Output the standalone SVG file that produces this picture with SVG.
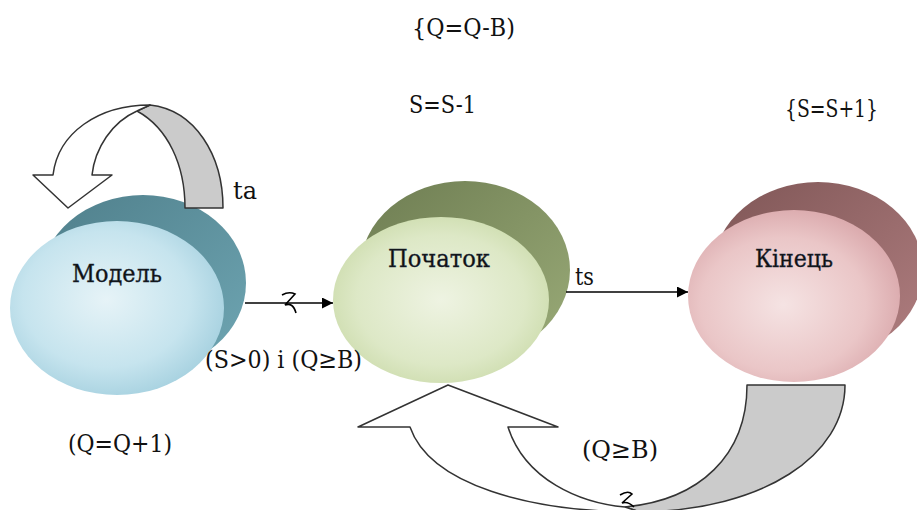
<svg xmlns="http://www.w3.org/2000/svg" width="917" height="510" viewBox="0 0 917 510">
<style>
.t{font-size:25px;fill:#111}
.n{font-size:25px;fill:#111;stroke:#1b2a40;stroke-width:0.4}
.ln{stroke:#000;stroke-width:1.6;fill:none}
.blk{stroke:#333;stroke-width:1.5;stroke-linejoin:round}
</style>
<defs>
<marker id="ah" viewBox="0 0 10 10" refX="10" refY="5" markerWidth="11" markerHeight="11" markerUnits="userSpaceOnUse" orient="auto">
<path d="M0,0 L10,5 L0,10 Z" fill="#000"/>
</marker>
<radialGradient id="gB" cx="0.45" cy="0.45" r="0.65">
<stop offset="0" stop-color="#e6f3f7"/><stop offset="0.6" stop-color="#c6e4ee"/><stop offset="1" stop-color="#9ccbdb"/>
</radialGradient>
<linearGradient id="bB" x1="0" y1="0" x2="1" y2="1">
<stop offset="0" stop-color="#4f7f8b"/><stop offset="1" stop-color="#6fa6b3"/>
</linearGradient>
<radialGradient id="gG" cx="0.5" cy="0.5" r="0.65">
<stop offset="0" stop-color="#eef3e2"/><stop offset="0.6" stop-color="#dde8c6"/><stop offset="1" stop-color="#c3d59e"/>
</radialGradient>
<linearGradient id="bG" x1="0" y1="0" x2="1" y2="1">
<stop offset="0" stop-color="#6e7d52"/><stop offset="1" stop-color="#9aab78"/>
</linearGradient>
<radialGradient id="gR" cx="0.45" cy="0.55" r="0.65">
<stop offset="0" stop-color="#f5e3e3"/><stop offset="0.6" stop-color="#eac6c7"/><stop offset="1" stop-color="#d49ea2"/>
</radialGradient>
<linearGradient id="bR" x1="0" y1="0" x2="1" y2="1">
<stop offset="0" stop-color="#7f5656"/><stop offset="1" stop-color="#b07e80"/>
</linearGradient>
</defs>
<rect width="917" height="510" fill="#fff"/>
<g font-family="DejaVu Serif, serif">
<g id="node-model">
<ellipse cx="143" cy="283" rx="103" ry="88" fill="url(#bB)"/>
<ellipse cx="117" cy="308" rx="107" ry="87" fill="url(#gB)"/>
<text class="n" x="72" y="282" textLength="90" lengthAdjust="spacingAndGlyphs">Модель</text>
</g>
<g id="node-start">
<ellipse cx="465" cy="270" rx="105" ry="89" fill="url(#bG)"/>
<ellipse cx="441" cy="300" rx="108" ry="83" fill="url(#gG)"/>
<text class="n" x="388" y="267" textLength="102" lengthAdjust="spacingAndGlyphs">Початок</text>
</g>
<g id="node-end">
<ellipse cx="818" cy="270" rx="105" ry="88" fill="url(#bR)"/>
<ellipse cx="794" cy="296" rx="106" ry="86" fill="url(#gR)"/>
<text class="n" x="755" y="267" textLength="78" lengthAdjust="spacingAndGlyphs">Кінець</text>
</g>

<g id="connectors">
<path class="blk" fill="#cbcbcb" d="M137,111 L150,105 C195,110 223,155 223,208 L185,208 C185,165 168,128 137,111 Z"/>
<path class="blk" fill="#fff" d="M53,175 C58,133 98,105 150,105 C146,107 141,109 137,111 C112,122 95,148 92,175 L112,175 L68,208 L33,175 Z"/>
<line class="ln" x1="245" y1="303" x2="333" y2="303" marker-end="url(#ah)"/>
<path class="ln" stroke-width="1.3" d="M282,295 Q289,291 295,294 L285,305 Q293,302 296,313"/>
<line class="ln" x1="566" y1="292" x2="688" y2="292" marker-end="url(#ah)"/>
<path class="blk" fill="#cbcbcb" d="M747,385 L845,385 C845,455 765,510 640,512 L625,507 C700,500 747,455 747,385 Z"/>
<path class="blk" fill="#fff" d="M625,507 C580,503 525,480 508,427 L558,427 L448,385 L358,427 L410,427 C430,485 530,512 640,512 Z"/>
<path class="ln" stroke-width="1.3" d="M620,495 Q628,490 632,494 L622,503 Q628,501 634,507"/>
</g>

<text class="t" x="412" y="36" textLength="103" lengthAdjust="spacingAndGlyphs">{Q=Q-B)</text>
<text class="t" x="409" y="113" textLength="67" lengthAdjust="spacingAndGlyphs">S=S-1</text>
<text class="t" x="785" y="117" textLength="93" lengthAdjust="spacingAndGlyphs">{S=S+1}</text>
<text class="t" x="233" y="199" textLength="24" lengthAdjust="spacingAndGlyphs">ta</text>
<text class="t" x="575" y="285" textLength="19" lengthAdjust="spacingAndGlyphs">ts</text>
<text class="t" x="205" y="368" textLength="157" lengthAdjust="spacingAndGlyphs">(S&gt;0) i (Q≥B)</text>
<text class="t" x="68" y="452" textLength="104" lengthAdjust="spacingAndGlyphs">(Q=Q+1)</text>
<text class="t" x="582" y="458" textLength="76" lengthAdjust="spacingAndGlyphs">(Q≥B)</text>
</g>
</svg>
